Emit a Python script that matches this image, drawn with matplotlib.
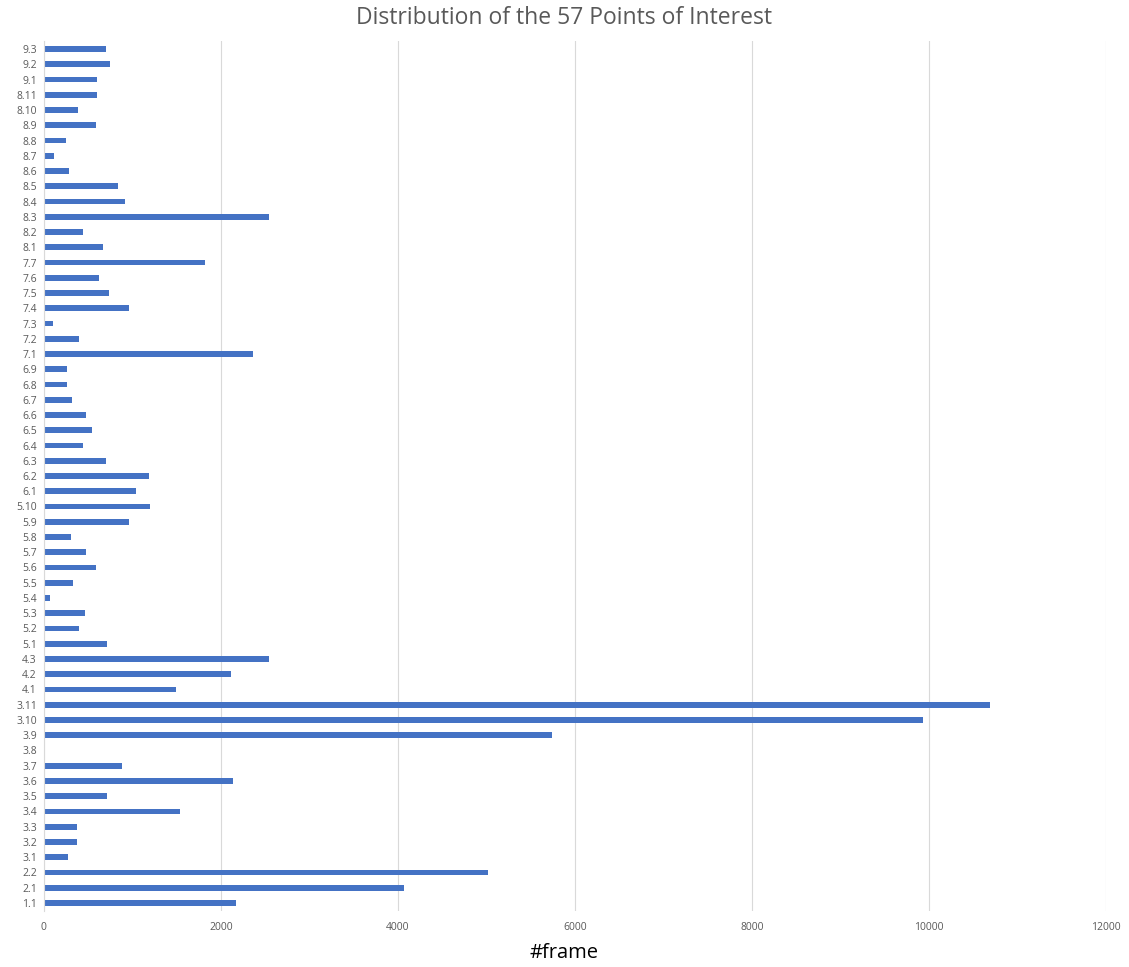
import matplotlib.pyplot as plt
import numpy as np

# Points of interest, bottom to top as drawn
labels = ["1.1", "2.1", "2.2", "3.1", "3.2", "3.3", "3.4", "3.5", "3.6", "3.7",
          "3.8", "3.9", "3.10", "3.11", "4.1", "4.2", "4.3", "5.1", "5.2", "5.3",
          "5.4", "5.5", "5.6", "5.7", "5.8", "5.9", "5.10", "6.1", "6.2", "6.3",
          "6.4", "6.5", "6.6", "6.7", "6.8", "6.9", "7.1", "7.2", "7.3", "7.4",
          "7.5", "7.6", "7.7", "8.1", "8.2", "8.3", "8.4", "8.5", "8.6", "8.7",
          "8.8", "8.9", "8.10", "8.11", "9.1", "9.2", "9.3"]

# number of frames per point
frames = [2172, 4069, 5014, 278, 372, 376, 1536, 711, 2141, 881,
          0, 5737, 9927, 10690, 1490, 2111, 2541, 719, 399, 466,
          75, 327, 594, 474, 312, 960, 1197, 1042, 1189, 700,
          440, 542, 478, 316, 262, 267, 2360, 395, 102, 960,
          741, 628, 1818, 666, 440, 2548, 918, 836, 286, 116,
          248, 594, 384, 606, 598, 745, 707]

xticks = [0, 2000, 4000, 6000, 8000, 10000, 12000]

plt.rcParams['font.family'] = ['Open Sans', 'DejaVu Sans']

my_dpi = 100
fig = plt.figure(figsize=(1129 / my_dpi, 967 / my_dpi), dpi=my_dpi)
ax = fig.add_axes([43.7 / 1129, 1 - 910.6 / 967, (1106.3 - 43.7) / 1129, (910.6 - 41.4) / 967])

y = np.arange(len(labels))
ax.barh(y, frames, height=0.37, color="#4472C4", zorder=3)

ax.set_xlim(0, 12000)
ax.set_ylim(-0.5, len(labels) - 0.5)
ax.set_xticks(xticks)
ax.set_xticklabels([str(t) for t in xticks], fontsize=7.5, color="#595959")
ax.set_yticks(y)
ax.set_yticklabels(labels, fontsize=7.5, color="#595959")
ax.tick_params(axis="both", length=0, pad=8)
ax.tick_params(axis="y", pad=5)

ax.grid(axis="x", color="#D9D9D9", linewidth=0.8, zorder=0)
for side in ["top", "right", "bottom"]:
    ax.spines[side].set_visible(False)
ax.spines["left"].set_color("#D9D9D9")
ax.spines["left"].set_linewidth(0.8)
ax.spines["left"].set_zorder(4)

fig.text(0.5, 1 - 18 / 967, "Distribution of the 57 Points of Interest",
         ha="center", va="center", fontsize=16.5, color="#595959")
fig.text(0.5, 1 - 953 / 967, "#frame", ha="center", va="center",
         fontsize=14.5, color="black")

plt.savefig("out.png", dpi=my_dpi)
